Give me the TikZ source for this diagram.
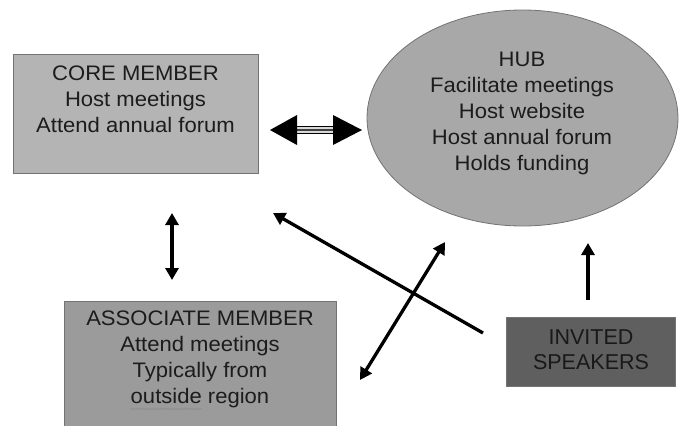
\documentclass[tikz,border=0pt]{standalone}
\usepackage{fontspec}
\setmainfont{Liberation Sans}
\newfontfamily\widefont{Liberation Sans}[FakeStretch=1.05]
\usetikzlibrary{arrows.meta,shapes.geometric,decorations.pathmorphing}
\definecolor{corefill}{RGB}{180,180,180}
\definecolor{hubfill}{RGB}{168,168,168}
\definecolor{assocfill}{RGB}{155,155,155}
\definecolor{invfill}{RGB}{95,95,95}
\definecolor{edge}{RGB}{115,115,115}
\definecolor{txt}{RGB}{28,28,28}
\tikzset{
  boxshape/.style={draw=edge, line width=0.8pt, inner sep=0pt},
  lbl/.style={align=center, text=txt, inner sep=0pt, font=\widefont\fontsize{21}{26}\selectfont},
  invlbl/.style={align=center, text=black!90, inner sep=0pt, font=\fontsize{21.5}{25}\selectfont},
  conn/.style={line width=3.3pt, black, -{Triangle[length=12pt,width=13pt]}},
  conn2/.style={line width=3.3pt, black, {Triangle[length=12pt,width=13pt]}-{Triangle[length=12pt,width=13pt]}},
}
\begin{document}
\begin{tikzpicture}[x=1pt,y=-1pt]
\useasboundingbox (0,0) rectangle (681,426);
% boxes
\node[boxshape, fill=corefill, minimum width=245pt, minimum height=119pt] (core) at (135.5,113.5) {};
\node[lbl] (coretxt) at (135.5,99.5) {CORE MEMBER\\Host meetings\\Attend annual forum};
\node[boxshape, ellipse, fill=hubfill, minimum width=311pt, minimum height=216pt] (hub) at (522.5,118) {};
\node[lbl] (hubtxt) at (522,113.5) {HUB\\Facilitate meetings\\Host website\\Host annual forum\\Holds funding};
\node[boxshape, fill=assocfill, minimum width=272pt, minimum height=130pt] (assoc) at (200,366) {};
\node[lbl] (assoctxt) at (200,359) {ASSOCIATE MEMBER\\Attend meetings\\Typically from\\outside region};
\node[boxshape, fill=invfill, minimum width=169pt, minimum height=69pt] (inv) at (590.5,351.5) {};
\node[invlbl] (invtxt) at (591,349.5) {INVITED\\SPEAKERS};
% squiggle under "outside"
\draw[black!45, line width=0.6pt, decorate, decoration={snake, amplitude=0.7pt, segment length=3pt}] (130,409) -- (202,409);
% big double arrow core <-> hub
\coordinate (dl) at (270,130);
\coordinate (dr) at (362,130);
\coordinate (sl) at (296,130);
\coordinate (sr) at (334,130);
\draw[line width=8.5pt, black] (sl) -- (sr);
\draw[line width=5.5pt, white!85!black] (sl) -- (sr);
\draw[line width=1.6pt, black!75] (sl) -- (sr);
\fill[black] (dl) -- ++(27,-15) -- ++(0,30) -- cycle;
\fill[black] (dr) -- ++(-29,-15) -- ++(0,30) -- cycle;
% core <-> associate
\coordinate (v1) at (172,213);
\coordinate (v2) at (172,280);
\draw[conn2] (v1) -- (v2);
% invited -> core
\coordinate (a1s) at (483,333);
\coordinate (a1e) at (273,213);
\draw[conn] (a1s) -- (a1e);
% associate <-> hub
\coordinate (b1) at (360,380);
\coordinate (b2) at (445,242);
\draw[conn2] (b1) -- (b2);
% invited -> hub
\coordinate (c1) at (588,300);
\coordinate (c2) at (588,243);
\draw[conn] (c1) -- (c2);
\end{tikzpicture}
\end{document}
